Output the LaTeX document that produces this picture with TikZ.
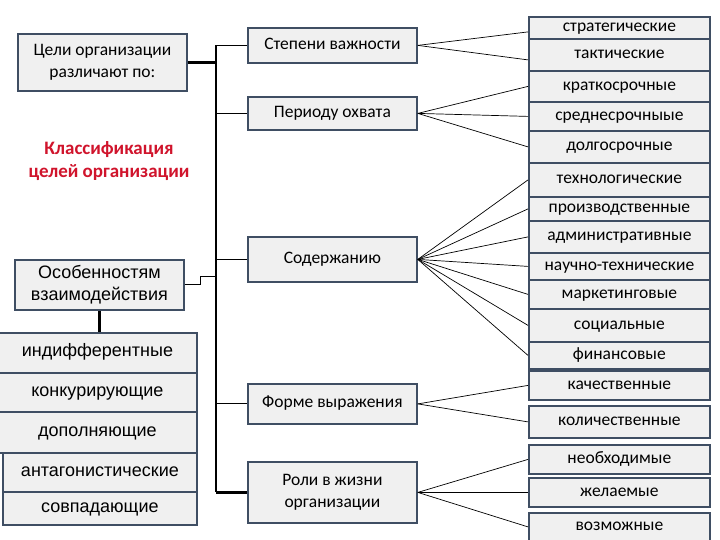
\documentclass[tikz,border=0pt]{standalone}
\usepackage{fontspec}
\setmainfont{Carlito}
\newfontfamily\arialf{Liberation Sans}
\definecolor{boxc}{HTML}{F0F0F0}
\definecolor{bordc}{HTML}{3F4E63}
\definecolor{redc}{HTML}{D0142C}
\newcommand\fsmain{\fontsize{17.5}{22}\selectfont}
\newcommand\fsleft{\arialf\fontsize{18}{22}\selectfont}
\begin{document}
\begin{tikzpicture}[x=1pt,y=-1pt,
  box/.style={draw=bordc, fill=boxc, line width=1.8pt, inner sep=0pt, align=center, font=\fsmain, anchor=north west},
  one/.style={text height=11pt, text depth=3.5pt},
  lbox/.style={box, font=\fsleft},
  mid/.style={box, minimum width=169pt},
  rbox/.style={box, one, minimum width=181pt},
  conn/.style={line width=0.7pt, black},
  trunkl/.style={line width=2.4pt, black},
  thinl/.style={line width=1pt, black}]
\useasboundingbox (0,0) rectangle (720,540);
% left
\node[box, minimum width=169pt, minimum height=57pt] (goal) at (17,33) {Цели организации\\различают по:};
\node[font=\fontsize{19}{23}\selectfont\bfseries, text=redc, align=center] (cls) at (109,161) {Классификация\\целей организации};
\node[lbox, minimum width=169pt, minimum height=50pt] (osob) at (14,259) {Особенностям\\взаимодействия};
\node[lbox, one, minimum width=199pt, minimum height=40pt] (l1) at (-3,332) {индифферентные};
\node[lbox, one, minimum width=199pt, minimum height=39pt] (l2) at (-3,372) {конкурирующие};
\node[lbox, one, minimum width=199pt, minimum height=41pt] (l3) at (-3,411) {дополняющие};
\node[lbox, one, minimum width=194pt, minimum height=39pt] (l4) at (2,452) {антагонистические};
\node[lbox, one, minimum width=194pt, minimum height=33pt] (l5) at (2,491) {совпадающие};
% middle
\node[mid, one, minimum height=35pt] (s1) at (247,27) {Степени важности};
\node[mid, one, minimum height=33pt] (s2) at (247,96) {Периоду охвата};
\node[mid, one, minimum height=45pt] (s3) at (247,236) {Содержанию};
\node[mid, one, minimum height=40pt] (s4) at (247,383) {Форме выражения};
\node[mid, minimum height=61pt] (s5) at (247,461) {Роли в жизни\\организации};
% right
\node[rbox, minimum height=22pt] (r1) at (528,16) {стратегические};
\node[rbox, minimum height=32pt] (r2) at (528,38) {тактические};
\node[rbox, minimum height=31pt] (r3) at (528,70) {краткосрочные};
\node[rbox, minimum height=29pt] (r4) at (528,101) {среднесрочныые};
\node[rbox, minimum height=32pt] (r5) at (528,130) {долгосрочные};
\node[rbox, minimum height=34pt] (r6) at (528,162) {технологические};
\node[rbox, minimum height=24pt] (r7) at (528,196) {производственные};
\node[rbox, minimum height=32pt] (r8) at (528,220) {административные};
\node[rbox, minimum height=27pt] (r9) at (528,252) {научно-технические};
\node[rbox, minimum height=29pt] (r10) at (528,279) {маркетинговые};
\node[rbox, minimum height=33pt] (r11) at (528,308) {социальные};
\node[rbox, minimum height=27pt] (r12) at (528,341) {финансовые};
\node[rbox, minimum height=29pt] (r13) at (528,370) {качественные};
\node[rbox, minimum height=32pt] (r14) at (528,405) {количественные};
\node[rbox, minimum height=29pt] (r15) at (528,444) {необходимые};
\node[rbox, minimum height=29pt] (r16) at (528,477) {желаемые};
\node[rbox, minimum height=28pt] (r17) at (528,512) {возможные};
% trunk
\coordinate (tx) at (216,0);
\coordinate (jog) at (200,276);
\draw[trunkl] (s1.west -| tx) -- (s5.west -| tx);
\draw[trunkl] (goal.east) -- (goal.east -| tx);
\draw[trunkl] (s5.west -| tx) -- (s5.west);
\draw[thinl] (s1.west -| tx) -- (s1.west);
\draw[thinl] (s2.west -| tx) -- (s2.west);
\draw[thinl] (s3.west -| tx) -- (s3.west);
\draw[thinl] (s4.west -| tx) -- (s4.west);
\draw[thinl] (osob.east) -| (jog) -- (jog -| tx);
\draw[trunkl] (osob.south) -- (osob.south |- l1.north);
% fan-outs
\draw[conn] (s1.east) -- ([yshift=-4pt]r1.west);
\draw[conn] (s1.east) -- ([yshift=-5pt]r2.west);
\foreach \r in {r3,r4,r5} \draw[conn] (s2.east) -- (\r.west);
\foreach \r in {r6,r7,r8,r9,r10,r11,r12} \draw[conn] (s3.east) -- (\r.west);
\foreach \r in {r13,r14} \draw[conn] (s4.east) -- (\r.west);
\foreach \r in {r15,r16,r17} \draw[conn] (s5.east) -- (\r.west);
\end{tikzpicture}
\end{document}
